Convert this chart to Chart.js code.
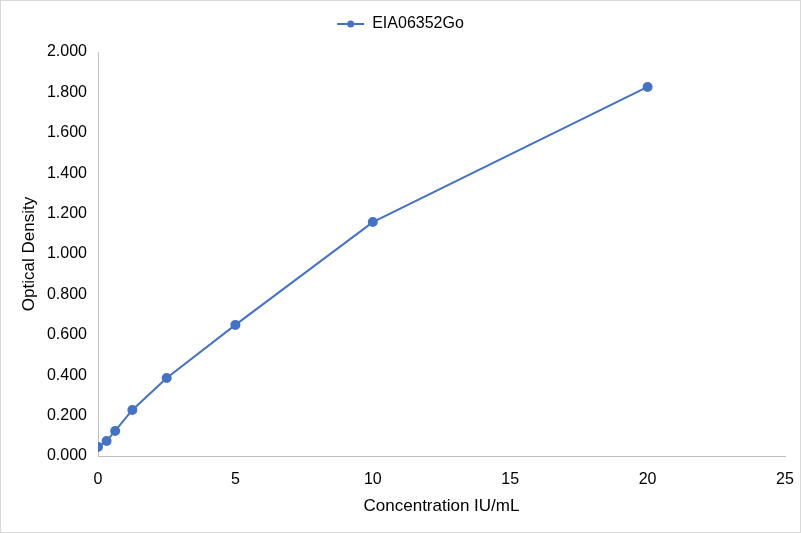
<!DOCTYPE html>
<html>
<head>
<meta charset="utf-8">
<script src="https://cdn.jsdelivr.net/npm/chart.js@4/dist/chart.umd.min.js"></script>
<style>
  html, body { margin: 0; padding: 0; background: #fff; }
  #wrap { width: 799px; height: 531px; border: 1px solid #d9d9d9; }
</style>
</head>
<body>
<div id="wrap"><canvas id="plots"></canvas></div>
<script>
// standard curve data
var concentration = [0, 0.3125, 0.625, 1.25, 2.5, 5, 10, 20]; // IU/mL
var density = [0.045, 0.074, 0.124, 0.228, 0.386, 0.649, 1.158, 1.827];
var seriesName = "EIA06352Go";

var points = concentration.map(function (c, i) { return { x: c, y: density[i] }; });
var blue = '#4472c4';

Chart.defaults.font.family = "'Liberation Sans', Arial, sans-serif";

// fix the legend height and put a marker on the legend line
var legendTweak = {
    id: 'legendTweak',
    beforeLayout: function (chart) {
        var lg = chart.legend;
        if (lg && !lg._patched) {
            var fit = lg.fit;
            lg.fit = function () { fit.call(this); this.height = 51; };
            lg._patched = true;
        }
    },
    afterDraw: function (chart) {
        var lg = chart.legend;
        if (!lg || !lg.legendHitBoxes || !lg.legendHitBoxes.length) return;
        var hb = lg.legendHitBoxes[0];
        var w = lg.options.labels.pointStyleWidth;
        var ctx = chart.ctx;
        ctx.save();
        ctx.fillStyle = blue;
        ctx.beginPath();
        ctx.arc(hb.left + w / 2, hb.top + hb.height / 2, 3.5, 0, Math.PI * 2);
        ctx.fill();
        ctx.restore();
    }
};

new Chart(document.getElementById("plots"), {
    type: 'scatter',
    data: {
        datasets: [{
            label: seriesName,
            data: points,
            showLine: true,
            borderColor: blue,
            backgroundColor: blue,
            borderWidth: 2,
            pointRadius: 4,
            pointHoverRadius: 4
        }]
    },
    options: {
        responsive: true,
        maintainAspectRatio: false,
        animation: false,
        layout: { padding: 0 },
        plugins: {
            tooltip: { enabled: false },
            legend: {
                position: 'top',
                labels: {
                    color: '#000',
                    font: { size: 16 },
                    usePointStyle: true,
                    pointStyle: 'line',
                    pointStyleWidth: 27,
                    padding: 15
                }
            }
        },
        scales: {
            x: {
                type: 'linear',
                min: 0,
                max: 25,
                afterFit: function (s) { s.height = 76; s.paddingRight = 15; s.paddingLeft = 0; },
                ticks: { stepSize: 5, color: '#000', font: { size: 16 }, padding: 14, maxRotation: 0 },
                grid: { display: false, drawTicks: false },
                border: { color: '#bfbfbf', width: 1 },
                title: { display: true, text: 'Concentration IU/mL', color: '#000', font: { size: 17 }, padding: { top: 0, bottom: 15 } }
            },
            y: {
                min: 0,
                max: 2,
                afterFit: function (s) { s.width = 97; },
                ticks: {
                    stepSize: 0.2,
                    color: '#000',
                    font: { size: 16 },
                    padding: 11,
                    callback: function (v) { return v.toFixed(3); }
                },
                grid: { display: false, drawTicks: false },
                border: { color: '#bfbfbf', width: 1 },
                title: { display: true, text: 'Optical Density', color: '#000', font: { size: 17 }, padding: { top: 18, bottom: 0 } }
            }
        }
    },
    plugins: [legendTweak]
});
</script>
</body>
</html>
